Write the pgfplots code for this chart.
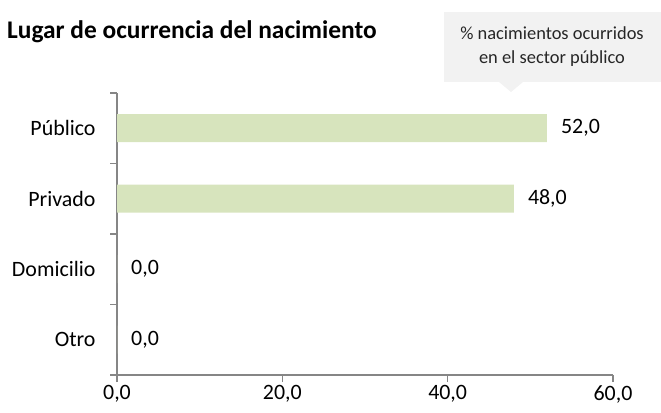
\documentclass[border=0pt]{standalone}
\usepackage{fontspec}
\setmainfont{Carlito}
\usepackage{pgfplots}
\pgfplotsset{compat=1.18}
\definecolor{barg}{HTML}{D7E4BD}
\definecolor{axg}{HTML}{868686}
\definecolor{boxg}{HTML}{F2F2F2}
\begin{document}
\begin{tikzpicture}
\useasboundingbox (0bp,0bp) rectangle (661bp,413bp);
\fill[boxg] (444bp,331bp) rectangle (661bp,401bp);
\fill[boxg] (499bp,331bp) -- (523bp,331bp) -- (511bp,321bp) -- cycle;
\node[align=center, font=\fontsize{18.5}{24}\selectfont, text=black!85] at (552bp,366bp) {\% nacimientos ocurridos\\en el sector público};
\node[anchor=west, inner sep=0pt, font=\fontsize{25.5}{30}\selectfont\bfseries] at (7bp,381bp) {Lugar de ocurrencia del nacimiento};
\begin{axis}[
  at={(117bp,38bp)}, anchor=south west,
  width=496bp, height=282bp, scale only axis,
  xmin=0, xmax=60, ymin=-0.5, ymax=3.5,
  xbar, bar width=28bp,
  axis lines*=left,
  axis line style={axg, line width=1.5bp},
  tick align=outside,
  major tick length=7bp, minor tick length=7bp,
  tick style={axg, line width=1.5bp},
  every major y tick/.style={draw=none},
  xtick={0,20,40,60},
  xticklabels={{0,0},{20,0},{40,0},{60,0}},
  ytick={0,1,2,3},
  yticklabels={Otro,Domicilio,Privado,Público},
  minor ytick={-0.5,0.5,1.5,2.5,3.5},
  ticklabel style={font=\fontsize{22}{26}\selectfont, text=black},
  yticklabel style={xshift=-11bp},
  nodes near coords,
  nodes near coords align=horizontal,
  every node near coord/.append style={anchor=west, inner sep=0pt, xshift=14bp,
    font=\fontsize{22}{26}\selectfont, text=black,
    /pgf/number format/.cd, fixed, fixed zerofill, precision=1, use comma, assume math mode=true},
  clip=false,
]
\addplot[fill=barg, draw=none] coordinates {(0,0) (0,1) (48,2) (52,3)};
\end{axis}
\end{tikzpicture}
\end{document}
